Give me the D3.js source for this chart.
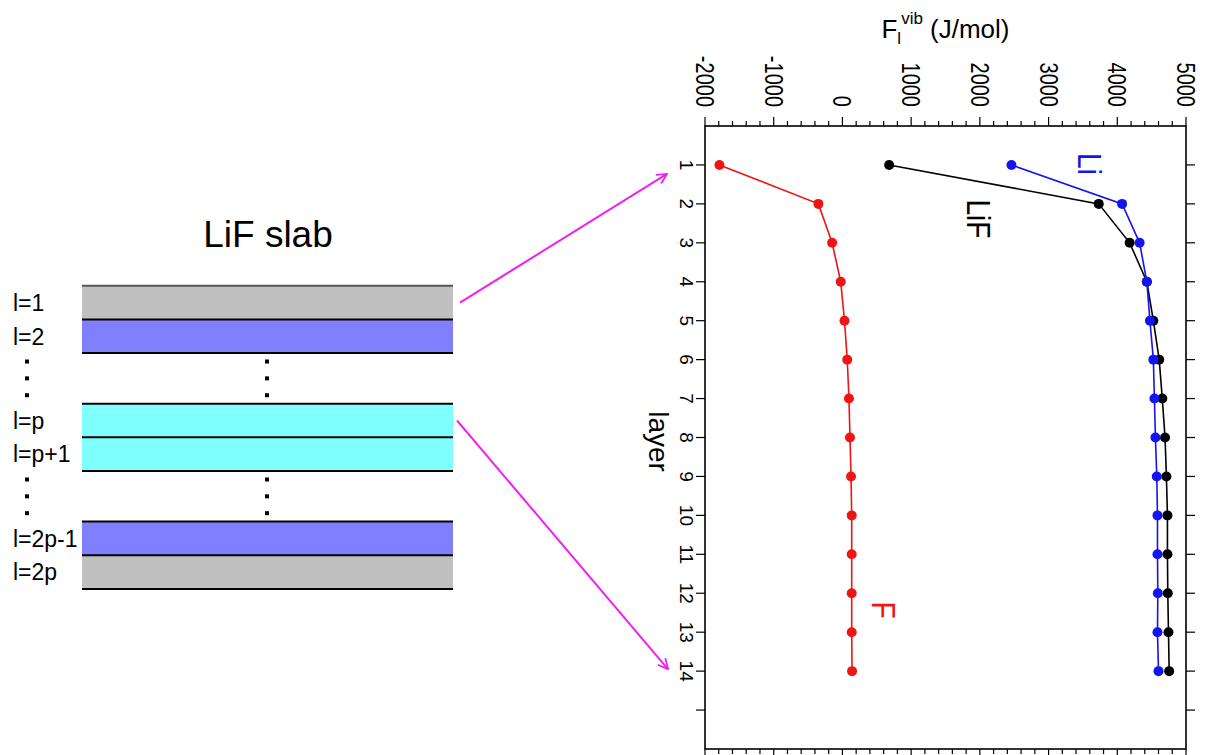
<!DOCTYPE html>
<html>
<head>
<meta charset="utf-8">
<script src="https://cdn.jsdelivr.net/npm/d3@7"></script>
<style>
	body { margin: 0; background: #fff; }
	svg text { font-family: "Liberation Sans", Arial, sans-serif; }
</style>
</head>
<body>
<div id="chart"></div>
<script>
// layers and free energies (J/mol)
const layers = [1, 2, 3, 4, 5, 6, 7, 8, 9, 10, 11, 12, 13, 14];
const fValues = [-1790, -350, -150, -25, 30, 70, 95, 110, 125, 135, 135, 135, 135, 140];
const lifValues = [680, 3730, 4180, 4430, 4525, 4610, 4655, 4695, 4715, 4730, 4730, 4735, 4745, 4755];
const liValues = [2460, 4070, 4325, 4430, 4475, 4525, 4540, 4555, 4575, 4585, 4585, 4590, 4585, 4600];
const seriesNames = ['F', 'LiF', 'Li'];
const seriesColors = ['#f01414', '#000000', '#1414f0'];

const valueTicks = [-2000, -1000, 0, 1000, 2000, 3000, 4000, 5000];
const layerTicks = [1, 2, 3, 4, 5, 6, 7, 8, 9, 10, 11, 12, 13, 14, 15];

// slab diagram
const slabLabels = ['l=1', 'l=2', 'l=p', 'l=p+1', 'l=2p-1', 'l=2p'];
const slabColors = ['#c0c0c0', '#8080ff', '#80ffff', '#80ffff', '#8080ff', '#c0c0c0'];
const slabRows = [0, 1, 3.5, 4.5, 7, 8];
const dotRows = [2.25, 2.75, 3.25, 5.75, 6.25, 6.75];

const svg = d3.select('#chart').append('svg')
	.attr('width', 1210)
	.attr('height', 755)

const x = d3.scaleLinear().domain([-2000, 5000]).range([705, 1186]);
const y = d3.scaleLinear().domain([0, 16]).range([126, 749]);

// ---------- plot frame ----------
const plot = svg.append('g').attr('id', 'plot');

plot.append('rect')
	.attr('x', x(-2000)).attr('y', y(0))
	.attr('width', x(5000) - x(-2000)).attr('height', y(16) - y(0))
	.style('fill', 'none').style('stroke', '#000').style('stroke-width', 1.6)

let minor = d3.range(-2000, 5001, 200);

[y(0), y(16)].forEach((yy, k) => {
	let dir = k == 0 ? -1 : 1;
	plot.append('g').selectAll('line')
		.data(minor)
		.enter()
		.append('line')
		.attr('x1', d => x(d)).attr('x2', d => x(d))
		.attr('y1', yy)
		.attr('y2', d => yy + dir * (d % 1000 == 0 ? 9 : 5))
		.style('stroke', '#000').style('stroke-width', 1.2)
});

[x(-2000), x(5000)].forEach((xx, k) => {
	let dir = k == 0 ? -1 : 1;
	plot.append('g').selectAll('line')
		.data(layerTicks)
		.enter()
		.append('line')
		.attr('x1', xx).attr('x2', xx + dir * 9)
		.attr('y1', d => y(d)).attr('y2', d => y(d))
		.style('stroke', '#000').style('stroke-width', 1.2)
});

// value tick labels, rotated like the rest of the plot
plot.append('g').selectAll('text')
	.data(valueTicks)
	.enter()
	.append('text')
	.attr('transform', d => `translate(${x(d)},107) rotate(90) scale(1,1.25)`)
	.attr('text-anchor', 'end')
	.attr('dy', '0.36em')
	.style('font-size', '20px')
	.text(d => d)

plot.append('g').selectAll('text')
	.data(layers)
	.enter()
	.append('text')
	.attr('transform', d => `translate(680,${y(d)}) rotate(90)`)
	.attr('text-anchor', 'middle')
	.style('font-size', '19px')
	.text(d => d)

plot.append('text')
	.attr('transform', `translate(649,${(y(0) + y(16)) / 2 + 4}) rotate(90)`)
	.attr('text-anchor', 'middle')
	.style('font-size', '28px')
	.text('layer')

let title = plot.append('text')
	.attr('x', (x(-2000) + x(5000)) / 2)
	.attr('y', 38)
	.attr('text-anchor', 'middle')
	.style('font-size', '26px')
title.append('tspan').text('F')
title.append('tspan').attr('dy', 6).style('font-size', '17px').text('l')
title.append('tspan').attr('dy', -20).style('font-size', '17px').text('vib')
title.append('tspan').attr('dy', 14).text(' (J/mol)')

// ---------- series ----------
const series = [fValues, lifValues, liValues].map((vals, i) => ({
	name: seriesNames[i],
	color: seriesColors[i],
	points: layers.map((l, j) => ({ layer: l, value: vals[j] }))
}));

let line = d3.line()
	.x(d => x(d.value))
	.y(d => y(d.layer))

let groups = plot.selectAll('g.series')
	.data(series)
	.enter()
	.append('g')
	.attr('class', 'series')

groups.append('path')
	.attr('d', d => line(d.points))
	.style('fill', 'none')
	.style('stroke', d => d.color)
	.style('stroke-width', 1.6)

groups.selectAll('circle')
	.data(d => d.points.map(p => Object.assign({ color: d.color }, p)))
	.enter()
	.append('circle')
	.attr('cx', d => x(d.value))
	.attr('cy', d => y(d.layer))
	.attr('r', 5)
	.style('fill', d => d.color)

// series labels inside the plot
const seriesLabelPos = [[872, 610], [967, 219], [1078, 164]];
plot.append('g').selectAll('text')
	.data(series)
	.enter()
	.append('text')
	.attr('transform', (d, i) => `translate(${seriesLabelPos[i][0]},${seriesLabelPos[i][1]}) rotate(90) scale(1,1.2)`)
	.attr('text-anchor', 'middle')
	.style('font-size', '28px')
	.style('fill', d => d.color)
	.text(d => d.name)

// ---------- slab diagram ----------
const slab = svg.append('g').attr('id', 'slab');
const rowH = 33.7;
const row = d => 285.7 + d * rowH;

slab.append('text')
	.attr('x', 268).attr('y', 247)
	.attr('text-anchor', 'middle')
	.style('font-size', '37px')
	.text('LiF slab')

slab.selectAll('rect')
	.data(slabRows)
	.enter()
	.append('rect')
	.attr('x', 82).attr('y', d => row(d))
	.attr('width', 371).attr('height', rowH)
	.style('fill', (d, i) => slabColors[i])

slab.append('g').selectAll('line')
	.data([0, 1, 2, 3.5, 4.5, 5.5, 7, 8, 9])
	.enter()
	.append('line')
	.attr('x1', 82).attr('x2', 453)
	.attr('y1', d => row(d)).attr('y2', d => row(d))
	.style('stroke', (d, i) => i == 0 ? '#555' : '#000')
	.style('stroke-width', 2)

slab.append('g').selectAll('text')
	.data(slabLabels)
	.enter()
	.append('text')
	.attr('x', 13)
	.attr('y', (d, i) => row(slabRows[i]) + rowH / 2)
	.attr('dy', '0.36em')
	.style('font-size', '23px')
	.text(d => d)

;[27, 267].forEach(cx => {
	slab.append('g').selectAll('rect')
		.data(dotRows)
		.enter()
		.append('rect')
		.attr('x', cx - 2).attr('y', d => row(d) - 2)
		.attr('width', 4).attr('height', 4)
		.style('fill', '#000')
});

// ---------- magenta arrows ----------
svg.append('defs').append('marker')
	.attr('id', 'arrowHead')
	.attr('viewBox', '0 0 12 12')
	.attr('refX', 11).attr('refY', 6)
	.attr('markerWidth', 12).attr('markerHeight', 12)
	.attr('markerUnits', 'userSpaceOnUse')
	.attr('orient', 'auto')
	.append('path')
	.attr('d', 'M1,1 L11,6 L1,11')
	.style('fill', 'none').style('stroke', '#f020f0').style('stroke-width', 1.8)

const arrows = [
	{ from: [460, row(0.5)], to: [667, y(1) + 9] },
	{ from: [457, row(4)], to: [668, y(14) - 2] }
];
svg.append('g').selectAll('line')
	.data(arrows)
	.enter()
	.append('line')
	.attr('x1', d => d.from[0]).attr('y1', d => d.from[1])
	.attr('x2', d => d.to[0]).attr('y2', d => d.to[1])
	.attr('marker-end', 'url(#arrowHead)')
	.style('stroke', '#f020f0')
	.style('stroke-width', 2)
</script>
</body>
</html>
